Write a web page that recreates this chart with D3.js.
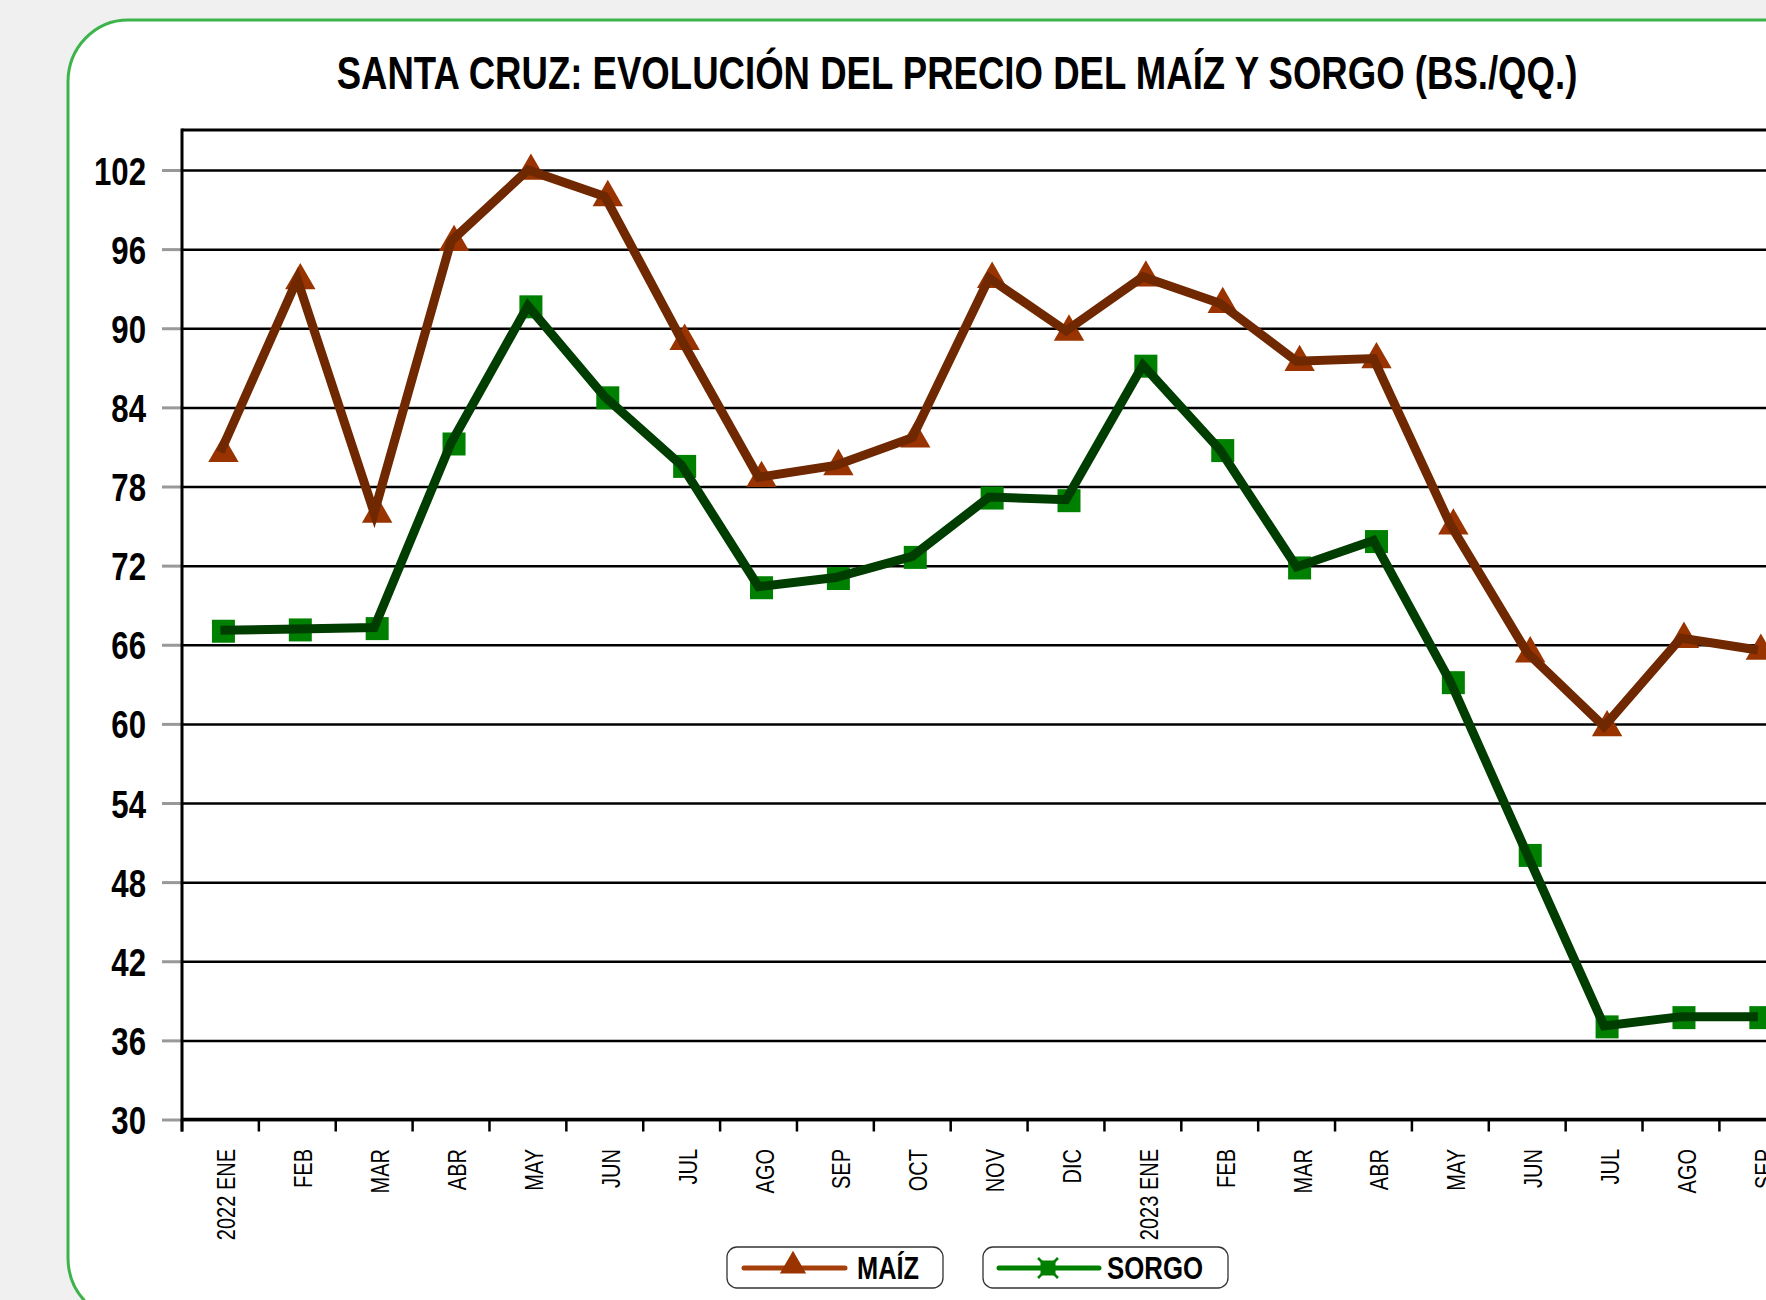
<!DOCTYPE html>
<html lang="es">
<head>
    <meta charset="UTF-8">
    <title>Santa Cruz maíz y sorgo</title>
    <script src="https://d3js.org/d3.v7.min.js"></script>
</head>
<style>
    html, body {
        margin: 0;
        padding: 0;
        background: #f0f0f0;
        overflow: hidden;
    }
    text {
        font-family: "Liberation Sans", Arial, sans-serif;
    }
</style>
<body>
    <div id="chart"></div>
</body>
<script>
    // datos
    const categories = ["2022 ENE", "FEB", "MAR", "ABR", "MAY", "JUN", "JUL", "AGO", "SEP", "OCT", "NOV", "DIC",
        "2023 ENE", "FEB", "MAR", "ABR", "MAY", "JUN", "JUL", "AGO", "SEP"];
    const maiz = [80.6, 93.7, 76.0, 96.6, 102.0, 100.0, 89.1, 78.7, 79.6, 81.7, 93.8, 89.8,
        93.9, 91.9, 87.5, 87.7, 75.1, 65.4, 59.8, 66.5, 65.6];
    const sorgo = [67.1, 67.2, 67.3, 81.3, 91.7, 84.8, 79.6, 70.4, 71.1, 72.7, 77.2, 77.0,
        87.2, 80.8, 71.9, 73.9, 63.2, 50.1, 37.1, 37.8, 37.8];
    const yTicks = [30, 36, 42, 48, 54, 60, 66, 72, 78, 84, 90, 96, 102];
    const title = "SANTA CRUZ: EVOLUCIÓN DEL PRECIO DEL MAÍZ Y SORGO (BS./QQ.)";

    const width = 1766;
    const height = 1300;
    // área del gráfico (se sale por la derecha como en el original)
    const plot = {left: 182, top: 130, bottom: 1119.5, step: 76.87};
    const plotRight = plot.left + plot.step * categories.length;

    const x = d3.scaleBand().domain(d3.range(categories.length))
        .range([plot.left, plotRight]).paddingInner(0).paddingOuter(0);
    const y = d3.scaleLinear().domain([30, 102]).range([plot.bottom, 170]);

    const svg = d3.select('#chart').append('svg')
        .attr('width', width)
        .attr('height', height);

    // texto estrecho (tipo Arial Narrow)
    const narrow = (sel, k) => sel.each(function () {
        const w = this.getComputedTextLength();
        d3.select(this).attr('textLength', w * k).attr('lengthAdjust', 'spacingAndGlyphs');
    });

    // marco verde redondeado
    svg.append('rect')
        .attr('x', 68).attr('y', 20)
        .attr('width', 1800).attr('height', 1300)
        .attr('rx', 60).attr('ry', 62)
        .attr('fill', '#fff')
        .attr('stroke', '#3cb44b')
        .attr('stroke-width', 3);

    // título (comprimido a 1241 px de ancho)
    const tt = svg.append('text')
        .attr('text-anchor', 'middle')
        .attr('font-size', 46)
        .attr('font-weight', 'bold')
        .text(title);
    const tw = tt.node().getComputedTextLength();
    tt.attr('transform', `translate(957,89) scale(${1241 / tw},1)`);

    // líneas de cuadrícula
    const grid = svg.append('g')
        .attr('transform', `translate(${plot.left},0)`)
        .call(d3.axisRight(y).tickValues(yTicks).tickSize(plotRight - plot.left).tickFormat(''));
    grid.select('.domain').remove();
    grid.selectAll('.tick line').attr('stroke', '#000').attr('stroke-width', 2.5);

    // borde superior
    svg.append('line')
        .attr('x1', plot.left).attr('x2', plotRight)
        .attr('y1', plot.top).attr('y2', plot.top)
        .attr('stroke', '#000').attr('stroke-width', 3);

    // eje y
    const gY = svg.append('g')
        .attr('transform', `translate(${plot.left},0)`)
        .call(d3.axisLeft(y).tickValues(yTicks).tickSize(20).tickPadding(16));
    gY.select('.domain').remove();
    gY.selectAll('.tick line').attr('stroke', '#999').attr('stroke-width', 3);
    gY.selectAll('.tick text')
        .attr('fill', '#000')
        .attr('font-size', 39)
        .attr('font-weight', 'bold')
        .attr('font-family', '"Liberation Sans", Arial, sans-serif')
        .attr('dy', '0.36em')
        .call(narrow, 0.8);
    svg.append('line')
        .attr('x1', plot.left).attr('x2', plot.left)
        .attr('y1', plot.top - 1.5).attr('y2', plot.bottom + 12)
        .attr('stroke', '#000').attr('stroke-width', 3);

    // eje x
    svg.append('line')
        .attr('x1', plot.left).attr('x2', plotRight)
        .attr('y1', plot.bottom).attr('y2', plot.bottom)
        .attr('stroke', '#000').attr('stroke-width', 3.5);
    svg.append('g').selectAll('line')
        .data(d3.range(categories.length + 1))
        .join('line')
        .attr('x1', d => plot.left + d * x.step())
        .attr('x2', d => plot.left + d * x.step())
        .attr('y1', plot.bottom).attr('y2', plot.bottom + 12)
        .attr('stroke', '#000').attr('stroke-width', 2.5);
    svg.append('g').selectAll('text')
        .data(categories)
        .join('text')
        .attr('transform', (d, i) => `translate(${x(i) + x.bandwidth() / 2 + 15},1149) rotate(-90)`)
        .attr('text-anchor', 'end')
        .attr('font-size', 25)
        .attr('fill', '#000')
        .text(d => d)
        .call(narrow, 0.8);

    // series
    const line = d3.line().x((d, i) => x(i) + x.bandwidth() / 2).y(d => y(d));
    const tri = d3.symbol().type(d3.symbolTriangle).size(400);

    svg.append('g').selectAll('rect')
        .data(sorgo)
        .join('rect')
        .attr('x', (d, i) => x(i) + x.bandwidth() / 2 - 11.5 + 3)
        .attr('y', d => y(d) - 11.5 + 1)
        .attr('width', 23).attr('height', 23)
        .attr('fill', '#008000');
    svg.append('path')
        .datum(sorgo)
        .attr('d', line)
        .attr('fill', 'none')
        .attr('stroke', '#003d00')
        .attr('stroke-width', 9)
        .attr('stroke-linejoin', 'miter');

    svg.append('g').selectAll('path')
        .data(maiz)
        .join('path')
        .attr('d', tri)
        .attr('transform', (d, i) => `translate(${x(i) + x.bandwidth() / 2 + 3},${y(d) + 1})`)
        .attr('fill', '#993300');
    svg.append('path')
        .datum(maiz)
        .attr('d', line)
        .attr('fill', 'none')
        .attr('stroke', '#702800')
        .attr('stroke-width', 9)
        .attr('stroke-linejoin', 'miter');

    // leyenda
    const legend = [
        {name: 'MAÍZ', box: [727, 216], line: [744, 845], mark: 793, tx: 857, tl: 62, color: '#a53f0b'},
        {name: 'SORGO', box: [983, 245], line: [999, 1099], mark: 1048, tx: 1107, tl: 96, color: '#008000'}
    ];
    const lg = svg.append('g').selectAll('g').data(legend).join('g');
    lg.append('rect')
        .attr('x', d => d.box[0]).attr('y', 1247)
        .attr('width', d => d.box[1]).attr('height', 41)
        .attr('rx', 10)
        .attr('fill', '#fff')
        .attr('stroke', '#333')
        .attr('stroke-width', 1.3);
    lg.append('line')
        .attr('x1', d => d.line[0]).attr('x2', d => d.line[1])
        .attr('y1', 1268).attr('y2', 1268)
        .attr('stroke', d => d.color)
        .attr('stroke-width', 5)
        .attr('stroke-linecap', 'round');
    lg.filter(d => d.name === 'MAÍZ').append('path')
        .attr('d', d3.symbol().type(d3.symbolTriangle).size(300))
        .attr('transform', d => `translate(${d.mark},1266)`)
        .attr('fill', '#993300');
    const sq = lg.filter(d => d.name === 'SORGO');
    sq.append('path')
        .attr('d', d => `M${d.mark - 10},1258 L${d.mark + 10},1278 M${d.mark + 10},1258 L${d.mark - 10},1278`)
        .attr('stroke', '#008000').attr('stroke-width', 2.5);
    sq.append('rect')
        .attr('x', d => d.mark - 7.5).attr('y', 1260.5)
        .attr('width', 15).attr('height', 15)
        .attr('fill', '#008000');
    lg.append('text')
        .attr('x', d => d.tx).attr('y', 1279)
        .attr('font-size', 32)
        .attr('font-weight', 'bold')
        .attr('fill', '#000')
        .attr('textLength', d => d.tl)
        .attr('lengthAdjust', 'spacingAndGlyphs')
        .text(d => d.name);
</script>
</html>
